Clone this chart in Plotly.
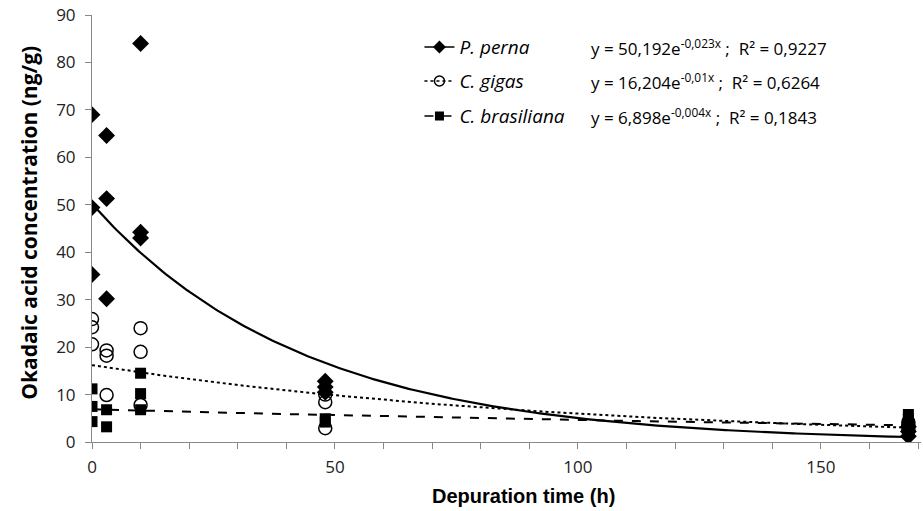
import numpy as np
import plotly.graph_objects as go

# ---- data ----
perna_x = [0, 0, 0, 3, 3, 3, 10, 10, 10, 48, 48, 48, 168, 168, 168]
perna_y = [69.0, 49.4, 35.3, 64.6, 51.3, 30.2, 84.0, 44.2, 43.0, 12.8, 11.6, 10.5, 1.2, 2.2, 3.2]

gigas_x = [0, 0, 0, 3, 3, 3, 10, 10, 10, 48, 48, 48, 168, 168, 168]
gigas_y = [25.9, 24.2, 20.6, 19.3, 18.2, 9.9, 24.0, 19.0, 7.8, 10.0, 8.4, 2.9, 2.6, 3.6, 4.2]

bras_x = [0, 0, 0, 3, 3, 10, 10, 10, 48, 48, 168, 168, 168]
bras_y = [11.2, 7.5, 4.3, 6.8, 3.2, 14.5, 10.2, 6.8, 4.9, 4.2, 5.8, 4.9, 3.9]

# exponential trend coefficients (a, b) and R²
species = ["P. perna", "C. gigas", "C. brasiliana"]
coef_a = [50.192, 16.204, 6.898]
coef_b = [-0.023, -0.01, -0.004]
coef_a_txt = ["50,192", "16,204", "6,898"]
coef_b_txt = ["-0,023x", "-0,01x", "-0,004x"]
r2_txt = ["0,9227", "0,6264", "0,1843"]

x_ticks = [0, 50, 100, 150]
y_ticks = [0, 10, 20, 30, 40, 50, 60, 70, 80, 90]

fig = go.Figure()

xs = np.linspace(0, 168, 300)
dashes = ["solid", "dot", "dash"]
widths = [2.2, 2, 2]
for a, b, d, w in zip(coef_a, coef_b, dashes, widths):
    fig.add_trace(go.Scatter(x=xs, y=a * np.exp(b * xs), mode="lines",
                             line=dict(color="black", dash=d, width=w),
                             showlegend=False, hoverinfo="skip"))

mk = [dict(symbol="diamond", size=13, color="black"),
      dict(symbol="circle-open", size=13, color="black", line=dict(width=1.5)),
      dict(symbol="square", size=11, color="black")]
fig.add_trace(go.Scatter(x=gigas_x, y=gigas_y, mode="markers", marker=mk[1], showlegend=False))
fig.add_trace(go.Scatter(x=bras_x, y=bras_y, mode="markers", marker=mk[2], showlegend=False))
fig.add_trace(go.Scatter(x=perna_x, y=perna_y, mode="markers", marker=mk[0], showlegend=False))

# legend-only entries, each in its own legend for exact placement
legnames = ["legend", "legend2", "legend3"]
leg_y = [0.925, 0.845, 0.763]
for i, sp in enumerate(species):
    m = dict(mk[i])
    m["size"] = 10 if i != 2 else 9
    fig.add_trace(go.Scatter(x=[None], y=[None], mode="lines+markers",
                             name="<i>%s</i>" % sp,
                             line=dict(color="black", dash=dashes[i], width=1.5),
                             marker=m, legend=legnames[i]))

leg_common = dict(font=dict(family="Open Sans, sans-serif", size=19, color="black"),
                  bgcolor="rgba(0,0,0,0)", xanchor="left", yanchor="middle",
                  itemwidth=30)
layout_legs = {}
for i, ln in enumerate(legnames):
    layout_legs[ln] = dict(leg_common, x=0.395, y=leg_y[i])

annots = []
for i in range(3):
    annots.append(dict(xref="paper", yref="paper", x=0.599, y=leg_y[i],
                       xanchor="left", yanchor="middle", showarrow=False,
                       text="y = %se<sup>%s</sup> ;  R² = %s" % (coef_a_txt[i], coef_b_txt[i], r2_txt[i]),
                       font=dict(family="Open Sans, sans-serif", size=17, color="black")))
annots.append(dict(xref="paper", yref="paper", x=-0.077, y=0.514, textangle=-90,
                   xanchor="center", yanchor="middle", showarrow=False,
                   text="<b>Okadaic acid concentration (ng/g)</b>",
                   font=dict(family="Open Sans, sans-serif", size=21, color="black")))
annots.append(dict(xref="paper", yref="paper", x=0.521, y=-0.127,
                   xanchor="center", yanchor="middle", showarrow=False,
                   text="<b>Depuration time (h)</b>",
                   font=dict(family="Liberation Sans, sans-serif", size=20, color="black")))

fig.update_layout(
    width=923, height=511,
    margin=dict(l=92, r=2, t=15, b=69),
    plot_bgcolor="white", paper_bgcolor="white",
    annotations=annots,
    **layout_legs,
    xaxis=dict(range=[0, 170.6], tickvals=x_ticks, ticks="outside", ticklen=6,
               tickcolor="#888", showline=True, linecolor="#888", linewidth=1,
               showgrid=False, zeroline=False, ticklabelstandoff=4,
               minor=dict(dtick=10, ticks="outside", ticklen=6, tickcolor="#888"),
               tickfont=dict(family="Open Sans, sans-serif", size=17, color="#222")),
    yaxis=dict(range=[0, 90], tickvals=y_ticks, ticks="outside", ticklen=6,
               tickcolor="#888", showline=True, linecolor="#888", linewidth=1,
               showgrid=False, zeroline=False, ticklabelstandoff=6,
               tickfont=dict(family="Open Sans, sans-serif", size=17, color="#222")),
)

fig.write_html("out.html")
